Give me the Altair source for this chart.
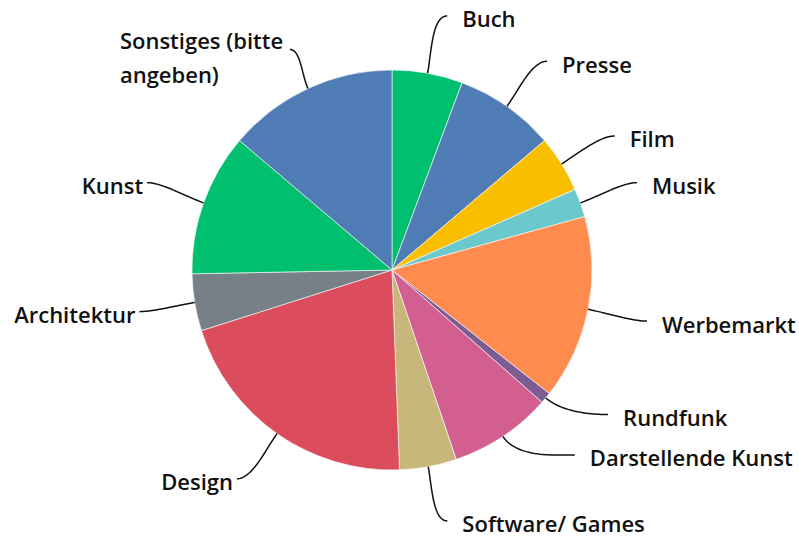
import math
import textwrap
import altair as alt
import pandas as pd

# ---- data ----
categories = ["Buch", "Presse", "Film", "Musik", "Werbemarkt", "Rundfunk",
              "Darstellende Kunst", "Software/ Games", "Design", "Architektur",
              "Kunst", "Sonstiges (bitte angeben)"]
shares = [5.7, 8.1, 4.6, 2.3, 14.9, 0.9, 8.3, 4.6, 20.7, 4.6, 11.5, 13.8]
colors = ["#00BF6F", "#507CB6", "#F9BE00", "#6BC8CD", "#FF8B4F", "#7D5C92",
          "#D25F90", "#C8B77B", "#DB4D5C", "#768086", "#00BF6F", "#507CB6"]

# ---- layout ----
PLOT_W, PLOT_H = 784, 536
PAD = {"left": 0, "top": 2, "right": 15, "bottom": 0}
R = 200
LABEL_R = 260
FONT = "Open Sans"
FS = 22
LH = 33.5
CHAR_W = 0.483
nudge = {"Buch": 2, "Presse": 1.5, "Film": 1, "Rundfunk": -6,
         "Darstellende Kunst": -11, "Software/ Games": -2, "Design": 1.5}
label_r_override = {"Sonstiges (bitte angeben)": 243, "Software/ Games": 257,
                    "Architektur": 256}

total = sum(shares)
cum = 0.0
arc_rows, line_rows, text_l_rows, text_r_rows = [], [], [], []
for i, (c, s) in enumerate(zip(categories, shares)):
    mid = (cum + s / 2) / total * 360
    cum += s
    arc_rows.append({"cat": c, "share": s, "idx": i})
    a0 = math.radians(mid)
    p0 = (R * math.sin(a0), -R * math.cos(a0))
    ae = math.radians(mid + nudge.get(c, 0))
    re_ = label_r_override.get(c, LABEL_R)
    p3 = (re_ * math.sin(ae), -re_ * math.cos(ae))
    side = 1 if p3[0] >= 0 else -1
    d = math.dist(p0, p3)
    p1 = (p0[0] + math.sin(a0) * 0.35 * d, p0[1] - math.cos(a0) * 0.35 * d)
    p2 = (p3[0] - side * 0.25 * d, p3[1])
    for k in range(31):
        t = k / 30
        b = [(1 - t) ** 3, 3 * (1 - t) ** 2 * t, 3 * (1 - t) * t ** 2, t ** 3]
        x = b[0] * p0[0] + b[1] * p1[0] + b[2] * p2[0] + b[3] * p3[0]
        y = b[0] * p0[1] + b[1] * p1[1] + b[2] * p2[1] + b[3] * p3[1]
        line_rows.append({"cat": c, "k": k, "x": x, "y": y})
    lines = textwrap.wrap(c, 18)
    if side > 0:
        for j, ln in enumerate(lines):
            text_l_rows.append({"t": ln, "x": p3[0] + 15, "y": p3[1] + 11.5 + j * LH})
    elif len(lines) == 1:
        text_r_rows.append({"t": lines[0], "x": p3[0] - 4, "y": p3[1] + 11.5})
    else:
        bw = max(len(l) for l in lines) * CHAR_W * FS
        for j, ln in enumerate(lines):
            text_l_rows.append({"t": ln, "x": p3[0] - bw, "y": p3[1] + j * LH})

xs = alt.Scale(domain=[-PLOT_W / 2, PLOT_W / 2], nice=False, zero=False)
ys = alt.Scale(domain=[-PLOT_H / 2, PLOT_H / 2], nice=False, zero=False, reverse=True)

arcs = alt.Chart(pd.DataFrame(arc_rows)).mark_arc(
    outerRadius=R, stroke="#ffffff", strokeWidth=0.6
).encode(
    theta=alt.Theta("share:Q", stack=True),
    color=alt.Color("cat:N", scale=alt.Scale(domain=categories, range=colors), legend=None),
    order=alt.Order("idx:Q"),
)

leaders = alt.Chart(pd.DataFrame(line_rows)).mark_line(
    color="#111111", strokeWidth=1.5
).encode(
    x=alt.X("x:Q", scale=xs, axis=None),
    y=alt.Y("y:Q", scale=ys, axis=None),
    detail="cat:N",
    order="k:Q",
)

txt_left_aligned = alt.Chart(pd.DataFrame(text_l_rows)).mark_text(
    align="left", baseline="alphabetic", font=FONT, fontSize=FS, fontWeight=600, color="#111111"
).encode(
    x=alt.X("x:Q", scale=xs, axis=None),
    y=alt.Y("y:Q", scale=ys, axis=None),
    text="t:N",
)

txt_right_aligned = alt.Chart(pd.DataFrame(text_r_rows)).mark_text(
    align="right", baseline="alphabetic", font=FONT, fontSize=FS, fontWeight=600, color="#111111"
).encode(
    x=alt.X("x:Q", scale=xs, axis=None),
    y=alt.Y("y:Q", scale=ys, axis=None),
    text="t:N",
)

chart = alt.layer(arcs, leaders, txt_left_aligned, txt_right_aligned).properties(
    width=PLOT_W, height=PLOT_H, padding=PAD,
    autosize=alt.AutoSizeParams(type="none"), background="white",
).configure_view(stroke=None)

chart.save("out.html", embed_options={"renderer": "svg", "actions": False})
